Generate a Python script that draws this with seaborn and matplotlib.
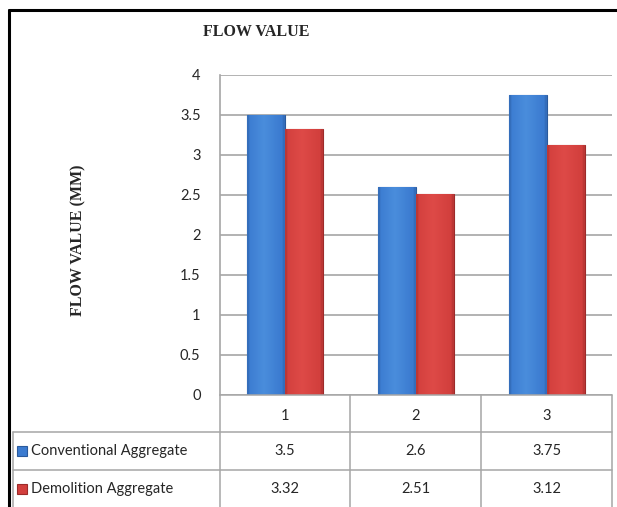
import numpy as np
import pandas as pd
import matplotlib
matplotlib.use("Agg")
import matplotlib.pyplot as plt
from matplotlib.patches import Rectangle
from matplotlib.colors import to_rgb
import seaborn as sns

categories = ["1", "2", "3"]
series_names = ["Conventional Aggregate", "Demolition Aggregate"]
conventional = [3.5, 2.6, 3.75]
demolition = [3.32, 2.51, 3.12]
value_labels = [["3.5", "2.6", "3.75"], ["3.32", "2.51", "3.12"]]
y_ticks = [0, 0.5, 1, 1.5, 2, 2.5, 3, 3.5, 4]
title = "FLOW VALUE"
y_label = "FLOW VALUE (MM)"

colors = ["#3b7bd0", "#d23f3d"]
light_colors = ["#4a8ddc", "#de4a47"]
edge_colors = ["#2a5a9c", "#9c2b2a"]

W, H = 617, 507
sns.set_style("white")
plt.rcParams["font.family"] = ["Lato", "DejaVu Sans"]

df = pd.DataFrame({
    "cat": categories * 2,
    "series": [series_names[0]] * 3 + [series_names[1]] * 3,
    "value": conventional + demolition,
})

fig = plt.figure(figsize=(W / 100, H / 100), dpi=100)
fig.patch.set_facecolor("white")

# plot area in pixel coords
ax_l, ax_r, ax_t, ax_b = 220, 612, 75, 395
ax = fig.add_axes([ax_l / W, 1 - ax_b / H, (ax_r - ax_l) / W, (ax_b - ax_t) / H])
sns.barplot(data=df, x="cat", y="value", hue="series", palette=colors,
            width=0.58, gap=0, ax=ax, legend=False, saturation=1)

# soft shading across each bar, like the office-style bevel
for i, cont in enumerate(ax.containers):
    dark = np.array(to_rgb(edge_colors[i]))
    mid = np.array(to_rgb(colors[i]))
    light = np.array(to_rgb(light_colors[i]))
    t = np.linspace(0, 1, 64)
    w = np.clip(1 - np.abs(t - 0.45) * 2.2, 0, 1)[:, None]
    row = mid * (1 - w) + light * w
    row[:4] = row[:4] * 0.6 + dark * 0.4
    row[-4:] = row[-4:] * 0.6 + dark * 0.4
    grad = row[None, :, :]
    for bar in cont:
        bar.set_edgecolor(edge_colors[i])
        bar.set_linewidth(0.8)
        x0, y0 = bar.get_x(), bar.get_y()
        bw, bh = bar.get_width(), bar.get_height()
        im = ax.imshow(grad, extent=[x0, x0 + bw, y0, y0 + bh], aspect="auto",
                       zorder=bar.get_zorder() + 0.1, interpolation="bilinear")
        im.set_clip_path(bar)

ax.set_ylim(0, 4)
ax.set_xlim(-0.5, 2.5)
ax.set_yticks(y_ticks)
ax.set_yticklabels([f"{t:g}" for t in y_ticks], fontsize=10.5)
ax.set_xticks([])
ax.set_xlabel("")
ax.set_ylabel("")
ax.tick_params(axis="y", length=0, pad=14)
ax.yaxis.grid(True, color="#a6a6a6", linewidth=1.2)
ax.set_axisbelow(True)
for s in ["top", "right", "bottom"]:
    ax.spines[s].set_visible(False)
ax.spines["left"].set_color("#a6a6a6")
ax.spines["left"].set_linewidth(1.2)

# overlay axes for frame, title and data table in pixel coordinates
ov = fig.add_axes([0, 0, 1, 1], facecolor="none")
ov.set_xlim(0, W)
ov.set_ylim(H, 0)
ov.axis("off")

ov.plot([9, 9], [H + 5, 10], color="black", linewidth=2.2)
ov.plot([9, W + 5], [10, 10], color="black", linewidth=2.2)

ov.text(256, 32, title, ha="center", va="center", fontsize=11.5, fontweight="bold",
        family="Liberation Serif")
ov.text(78, 240, y_label, ha="center", va="center", rotation=90, fontsize=11.5,
        fontweight="bold", family="Liberation Serif")

grid_c = "#a6a6a6"
col_x = [ax_l, 350, 481, ax_r]
row_y = [ax_b, 432, 470, 508]
left_x = 13
for x in col_x:
    ov.plot([x, x], [row_y[0], row_y[-1]], color=grid_c, linewidth=1.1)
ov.plot([left_x, left_x], [row_y[1], row_y[-1]], color=grid_c, linewidth=1.1)
ov.plot([ax_l, ax_r], [row_y[0], row_y[0]], color=grid_c, linewidth=1.1)
for y in row_y[1:3]:
    ov.plot([left_x, ax_r], [y, y], color=grid_c, linewidth=1.1)

for j, cat in enumerate(categories):
    cx = (col_x[j] + col_x[j + 1]) / 2
    ov.text(cx, (row_y[0] + row_y[1]) / 2 + 2, cat, ha="center", va="center", fontsize=10.5)

for i, name in enumerate(series_names):
    cy = (row_y[i + 1] + row_y[i + 2]) / 2
    ov.add_patch(Rectangle((17, cy - 5), 10, 10, facecolor=colors[i],
                           edgecolor=edge_colors[i], linewidth=0.8))
    ov.text(31, cy, name, ha="left", va="center", fontsize=10.5)
    for j in range(len(categories)):
        cx = (col_x[j] + col_x[j + 1]) / 2
        ov.text(cx, cy, value_labels[i][j], ha="center", va="center", fontsize=10.5)

fig.savefig("out.png", dpi=100)
